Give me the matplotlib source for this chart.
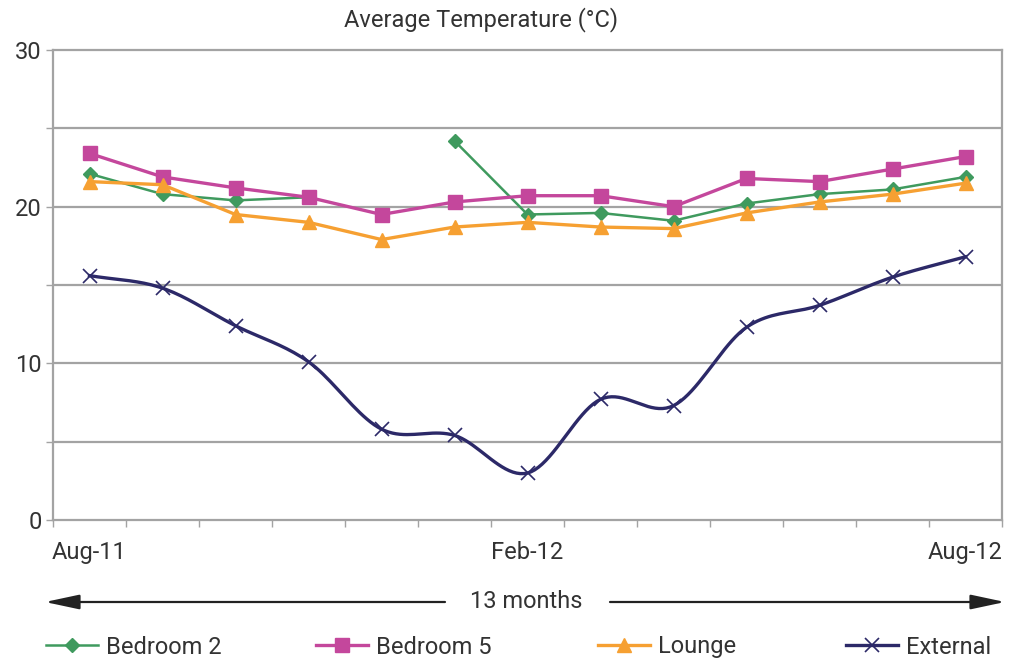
import numpy as np
import matplotlib
matplotlib.use("Agg")
import matplotlib.pyplot as plt
from matplotlib.ticker import FixedLocator

plt.rcParams['font.family'] = ['Roboto', 'DejaVu Sans']

# monthly averages, Aug-11 .. Aug-12
months = ['Aug-11', 'Sep-11', 'Oct-11', 'Nov-11', 'Dec-11', 'Jan-12', 'Feb-12',
          'Mar-12', 'Apr-12', 'May-12', 'Jun-12', 'Jul-12', 'Aug-12']
bedroom2 = [22.1, 20.8, 20.4, 20.6, np.nan, 24.2, 19.5, 19.6, 19.1, 20.2, 20.8, 21.1, 21.9]
bedroom5 = [23.4, 21.9, 21.2, 20.6, 19.5, 20.3, 20.7, 20.7, 20.0, 21.8, 21.6, 22.4, 23.2]
lounge = [21.6, 21.4, 19.5, 19.0, 17.9, 18.7, 19.0, 18.7, 18.6, 19.6, 20.3, 20.8, 21.5]
external = [15.6, 14.8, 12.4, 10.1, 5.8, 5.4, 3.0, 7.7, 7.3, 12.3, 13.7, 15.5, 16.8]
shown_labels = ['Aug-11', 'Feb-12', 'Aug-12']

c_green = '#3f9a5e'
c_pink = '#c4479c'
c_orange = '#f6a032'
c_navy = '#2c2968'
c_grid = '#a3a3a3'
c_text = '#333333'
fs = 17


def smooth(xs, ys, n=20):
    # Catmull-Rom style curve, like a spreadsheet "smoothed line"
    xs = np.asarray(xs, float)
    ys = np.asarray(ys, float)
    px = np.concatenate([[2 * xs[0] - xs[1]], xs, [2 * xs[-1] - xs[-2]]])
    py = np.concatenate([[2 * ys[0] - ys[1]], ys, [2 * ys[-1] - ys[-2]]])
    ox, oy = [], []
    for i in range(1, len(px) - 2):
        t = np.linspace(0, 1, n, endpoint=False)
        for p, out in ((px, ox), (py, oy)):
            p0, p1, p2, p3 = p[i - 1], p[i], p[i + 1], p[i + 2]
            out.extend(0.5 * (2 * p1 + (-p0 + p2) * t
                              + (2 * p0 - 5 * p1 + 4 * p2 - p3) * t ** 2
                              + (-p0 + 3 * p1 - 3 * p2 + p3) * t ** 3))
    ox.append(xs[-1])
    oy.append(ys[-1])
    return np.array(ox), np.array(oy)


fig = plt.figure(figsize=(10.13, 6.63), dpi=100)
ax = fig.add_axes([53 / 1013, 143 / 663, 949 / 1013, 470 / 663])

x = np.arange(len(months))

ax.plot(x, bedroom2, color=c_green, lw=1.8, marker='D', ms=7, label='Bedroom 2', zorder=3)
ax.plot(x, bedroom5, color=c_pink, lw=2.4, marker='s', ms=10, label='Bedroom 5', zorder=3)
ax.plot(x, lounge, color=c_orange, lw=2.4, marker='^', ms=10, label='Lounge', zorder=3)
sx, sy = smooth(x, external)
ax.plot(sx, sy, color=c_navy, lw=2.4, zorder=3)
ax.plot(x, external, ls='none', color=c_navy, marker='x', ms=10, mew=1.2, zorder=4)
ax.plot([], [], color=c_navy, lw=2.4, marker='x', ms=10, mew=1.2, label='External')

ax.set_xlim(-0.5, len(months) - 0.5)
ax.set_ylim(0, 30)

# category axis: ticks between months, labels on three months
ax.xaxis.set_major_locator(FixedLocator([months.index(m) for m in shown_labels]))
ax.set_xticklabels(shown_labels)
ax.xaxis.set_minor_locator(FixedLocator(np.arange(-0.5, len(months), 1)))
ax.tick_params(axis='x', which='major', length=0, pad=15, labelsize=fs, colors=c_text)
ax.tick_params(axis='x', which='minor', length=5, width=1, color=c_grid, direction='out')

ax.set_yticks([0, 10, 20, 30])
ax.yaxis.set_minor_locator(FixedLocator([5, 15, 25]))
ax.tick_params(axis='y', which='both', length=5, width=1, color=c_grid, labelsize=fs,
               labelcolor=c_text, pad=3)

for v in [5, 10, 15, 20, 25]:
    ax.axhline(v, color=c_grid, lw=1.6, zorder=1)
for s in ax.spines.values():
    s.set_color(c_grid)
    s.set_linewidth(1.6)

fig.text(481 / 1013, 1 - 20 / 663, 'Average Temperature (°C)', ha='center', va='center',
         fontsize=fs, color=c_text)

# "13 months" arrow under the axis
ya = 1 - 602 / 663
arrow_kw = dict(arrowstyle='-|>,head_length=1.5,head_width=0.32', color='#222222', lw=1.6,
                mutation_scale=14, shrinkA=0, shrinkB=0)
fig.add_artist(matplotlib.patches.FancyArrowPatch((445 / 1013, ya), (45 / 1013, ya),
                                                  transform=fig.transFigure, **arrow_kw))
fig.add_artist(matplotlib.patches.FancyArrowPatch((610 / 1013, ya), (1005 / 1013, ya),
                                                  transform=fig.transFigure, **arrow_kw))
fig.text(526 / 1013, ya, '13 months', ha='center', va='center', fontsize=fs, color=c_text)

# legend entries laid out across the bottom
handles, labels = ax.get_legend_handles_labels()
leg_x = [46, 316, 598, 846]
yl = 1 - 647 / 663
for h, l, lx in zip(handles, labels, leg_x):
    fig.legend([h], [l], loc='center left', bbox_to_anchor=(lx / 1013, yl),
               frameon=False, fontsize=fs, handlelength=2.2, handletextpad=0.35,
               labelcolor=c_text, borderaxespad=0, borderpad=0)

fig.savefig('out.png', dpi=100)
